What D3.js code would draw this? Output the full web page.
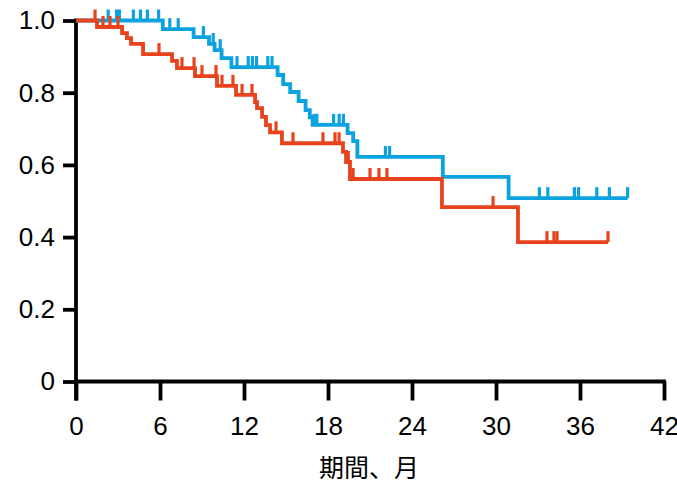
<!DOCTYPE html>
<html>
<head>
<meta charset="utf-8">
<script src="https://cdn.jsdelivr.net/npm/d3@7"></script>
<style>
  html, body { margin: 0; padding: 0; background: #fff; }
  svg { display: block; }
</style>
</head>
<body>
<svg id="chart" width="677" height="485"></svg>
<script>
// Kaplan–Meier curves: event times (months) and survival after each event
const blueTimes = [6.2, 8.4, 9.5, 9.9, 10.4, 11.1, 14.4, 14.8, 15.3, 15.9, 16.4, 16.7, 16.9, 19.4, 19.8, 20.1, 26.2, 30.9];
const blueSurv  = [0.976, 0.954, 0.935, 0.918, 0.896, 0.871, 0.849, 0.824, 0.802, 0.777, 0.752, 0.732, 0.711, 0.688, 0.666, 0.622, 0.567, 0.508];
const blueEnd = 39.4;
const blueCensor = [2.3, 2.9, 3.1, 4.1, 4.6, 5.1, 5.9, 6.7, 7.3, 9.1, 9.8, 10.3, 11.5, 12.3, 12.6, 12.9, 13.7, 14.0, 17.0, 17.2, 18.4, 18.8, 19.1, 22.1, 22.4, 33.1, 33.7, 35.6, 35.9, 37.2, 38.1, 39.4];

const redTimes = [1.5, 3.29, 3.64, 3.93, 4.79, 6.86, 7.21, 8.5, 10.07, 11.43, 12.79, 12.93, 13.29, 13.57, 13.86, 14.71, 19.07, 19.29, 19.57, 26.14, 31.57];
const redSurv  = [0.982, 0.965, 0.951, 0.935, 0.907, 0.888, 0.868, 0.846, 0.819, 0.794, 0.774, 0.757, 0.733, 0.710, 0.690, 0.660, 0.636, 0.608, 0.561, 0.483, 0.386];
const redEnd = 38.0;
const redCensor = [1.36, 1.93, 2.43, 3.0, 5.93, 7.57, 8.43, 9.0, 10.0, 10.43, 11.21, 11.86, 12.57, 14.29, 15.5, 17.64, 18.5, 18.79, 19.45, 19.79, 21.0, 21.64, 22.21, 29.79, 33.64, 34.14, 34.36, 38.0];

const xTicks = [0, 6, 12, 18, 24, 30, 36, 42];
const yTicks = [0, 0.2, 0.4, 0.6, 0.8, 1.0];
const yTickLabels = ["0", "0.2", "0.4", "0.6", "0.8", "1.0"];
const xTitle = "期間、月";

const svg = d3.select("#chart");
const x = d3.scaleLinear().domain([0, 42]).range([76, 664]);
const y = d3.scaleLinear().domain([0, 1]).range([381.5, 20.5]);

const tickFont = "'Liberation Sans', Arial, sans-serif";

// Y axis
const yAxis = svg.append("g")
  .attr("transform", `translate(${x(0)},0)`)
  .call(d3.axisLeft(y).tickValues(yTicks)
    .tickFormat((d, i) => yTickLabels[i])
    .tickSize(13).tickPadding(8).tickSizeOuter(0));
yAxis.select(".domain").remove();
yAxis.selectAll(".tick line").attr("stroke", "#000").attr("stroke-width", 3.8);
yAxis.selectAll(".tick text").attr("fill", "#000")
  .style("font-family", tickFont).style("font-size", "26px");

// X axis
const xAxis = svg.append("g")
  .attr("transform", `translate(0,${y(0)})`)
  .call(d3.axisBottom(x).tickValues(xTicks)
    .tickSize(19).tickPadding(16).tickSizeOuter(0));
xAxis.select(".domain").remove();
xAxis.selectAll(".tick line").attr("stroke", "#000").attr("stroke-width", 3.8);
xAxis.selectAll(".tick text").attr("fill", "#000")
  .style("font-family", tickFont).style("font-size", "26px");

// Axis lines
svg.append("line")
  .attr("x1", x(0)).attr("x2", x(0))
  .attr("y1", y(1) - 1.9).attr("y2", y(0) + 19)
  .attr("stroke", "#000").attr("stroke-width", 3.8);
svg.append("line")
  .attr("x1", x(0)).attr("x2", x(42) + 1.9)
  .attr("y1", y(0)).attr("y2", y(0))
  .attr("stroke", "#000").attr("stroke-width", 3.8);

// Axis title
svg.append("text")
  .attr("x", 369).attr("y", 477)
  .attr("text-anchor", "middle")
  .style("font-family", "'Noto Sans CJK JP', sans-serif")
  .style("font-size", "25px")
  .attr("fill", "#000")
  .text(xTitle);

// Survival step curves with censoring marks
function drawCurve(times, surv, end, censor, color) {
  const pts = [[0, 1]];
  times.forEach((t, i) => pts.push([t, surv[i]]));
  pts.push([end, surv[surv.length - 1]]);
  const line = d3.line()
    .x(d => x(d[0])).y(d => y(d[1]))
    .curve(d3.curveStepAfter);
  const g = svg.append("g");
  g.append("path")
    .attr("d", line(pts))
    .attr("fill", "none")
    .attr("stroke", color)
    .attr("stroke-width", 3.8)
    .attr("stroke-linejoin", "miter");
  const level = t => {
    let s = 1;
    times.forEach((tt, i) => { if (tt <= t) s = surv[i]; });
    return s;
  };
  g.selectAll("line.censor")
    .data(censor)
    .join("line")
    .attr("class", "censor")
    .attr("x1", d => x(d)).attr("x2", d => x(d))
    .attr("y1", d => y(level(d)))
    .attr("y2", d => y(level(d)) - 11)
    .attr("stroke", color)
    .attr("stroke-width", 3.2);
}

drawCurve(blueTimes, blueSurv, blueEnd, blueCensor, "#0aa2df");
drawCurve(redTimes, redSurv, redEnd, redCensor, "#e8431d");
</script>
</body>
</html>
